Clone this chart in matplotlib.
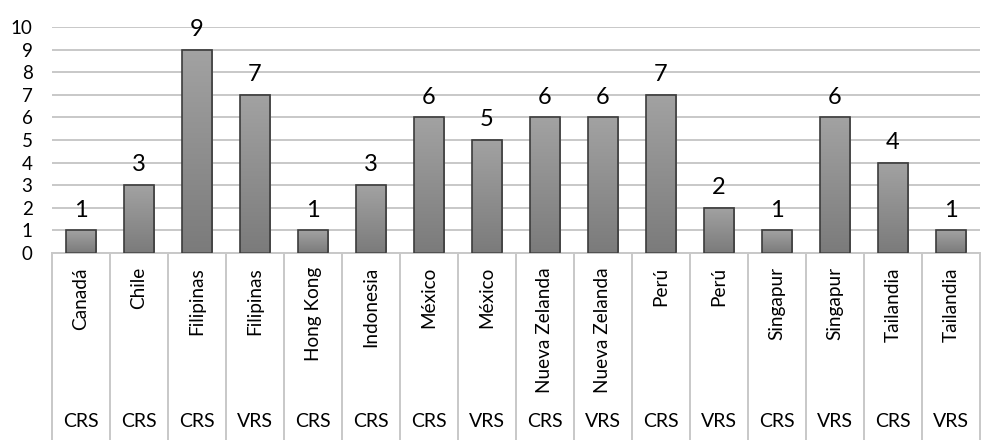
import numpy as np
import matplotlib
matplotlib.use("Agg")
from matplotlib import pyplot as plt

countries = ["Canadá", "Chile", "Filipinas", "Filipinas", "Hong Kong", "Indonesia",
             "México", "México", "Nueva Zelanda", "Nueva Zelanda", "Perú", "Perú",
             "Singapur", "Singapur", "Tailandia", "Tailandia"]
groups = ["CRS", "CRS", "CRS", "VRS", "CRS", "CRS", "CRS", "VRS", "CRS", "VRS",
          "CRS", "VRS", "CRS", "VRS", "CRS", "VRS"]
values = [1, 3, 9, 7, 1, 3, 6, 5, 6, 6, 7, 2, 1, 6, 4, 1]

plt.rcParams['font.family'] = ['Lato', 'DejaVu Sans']

fig = plt.figure(figsize=(9.85, 4.4), dpi=100)
ax = fig.add_axes([52/985, (440-253)/440, 928/985, 226/440])

x = np.arange(len(values))
bars = ax.bar(x, values, width=0.52, facecolor='none', edgecolor='#3c3c3c',
              linewidth=1.2, zorder=3)

# vertical gradient fill for each bar
grad = np.linspace(0, 1, 100).reshape(-1, 1)
cmap = matplotlib.colors.LinearSegmentedColormap.from_list("g", ["#7b7b7b", "#a2a2a2"])
for b in bars:
    ax.imshow(grad, cmap=cmap, aspect='auto', origin='lower', zorder=2,
              extent=[b.get_x(), b.get_x() + b.get_width(), 0, b.get_height()])

for xi, v in zip(x, values):
    ax.annotate(str(v), (xi, v), xytext=(0, 7), textcoords='offset points',
                ha='center', va='bottom', fontsize=17)

ax.set_xlim(-0.5, len(values) - 0.5)
ax.set_ylim(0, 10)
ax.set_yticks(range(0, 11))
ax.tick_params(axis='y', length=0, labelsize=13.5, pad=14)
ax.set_xticks([])
ax.yaxis.grid(True, color='#c8c8c8', linewidth=1.4, zorder=0)
for s in ['top', 'right', 'left']:
    ax.spines[s].set_visible(False)
ax.spines['bottom'].set_color('#c8c8c8')
ax.spines['bottom'].set_linewidth(1.4)

# category boxes below the axis
trans = ax.get_xaxis_transform()
bottom = -188/226
for sep in np.arange(-0.5, len(values), 1.0):
    ax.plot([sep, sep], [0, bottom], color='#c8c8c8', linewidth=1.4,
            transform=trans, clip_on=False)
for xi, c, g in zip(x, countries, groups):
    ax.text(xi, -14/226, c, rotation=90, ha='center', va='top',
            fontsize=13.7, transform=trans)
    ax.text(xi, -168/226, g, ha='center', va='center', fontsize=14, transform=trans)

fig.savefig("out.png", dpi=100)
